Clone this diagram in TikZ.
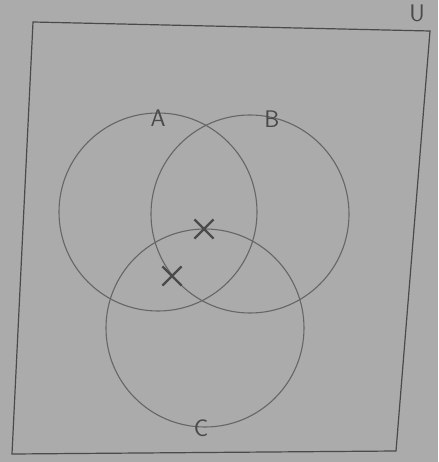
\documentclass[tikz,border=0pt]{standalone}
\usepackage{xcolor}
\definecolor{paper}{HTML}{ABABAB}
\definecolor{pencil}{HTML}{4A4A4A}
\definecolor{lightpencil}{HTML}{666666}
\usepackage{tikz}
\usetikzlibrary{positioning, shapes.misc}

\begin{document}
\begin{tikzpicture}[x=1pt, y=-1pt,
    setcircle/.style={circle, draw=lightpencil, line width=1.1pt, minimum size=198pt, inner sep=0pt},
    setlabel/.style={font=\sffamily\fontsize{24}{24}\selectfont, text=pencil, inner sep=1pt},
    crossmark/.style={cross out, draw=pencil, line width=2.2pt, minimum size=17pt, inner sep=0pt}]
    % paper and frame
    \fill[paper] (0,0) rectangle (438,462);
    \useasboundingbox (0,0) rectangle (438,462);
    \coordinate (tl) at (33,22);
    \coordinate (tr) at (430,31);
    \coordinate (br) at (396,451);
    \coordinate (bl) at (12,454);
    \draw[pencil, line width=1.2pt] (tl) -- (tr) -- (br) -- (bl) -- cycle;
    \node[setlabel] (u) at (417,13) {U};
    % the three sets
    \foreach \name/\x/\y in {A/158/212, B/250/214, C/205/328} {
        \node[setcircle] (\name) at (\x,\y) {};
    }
    \node[setlabel] (la) at (158,118) {A};
    \node[setlabel] (lb) at (272,119) {B};
    \node[setlabel] (lc) at (201,428) {C};
    % marked elements
    \node[crossmark] (x1) at (204,229) {};
    \node[crossmark] (x2) at (172,276) {};
\end{tikzpicture}
\end{document}
